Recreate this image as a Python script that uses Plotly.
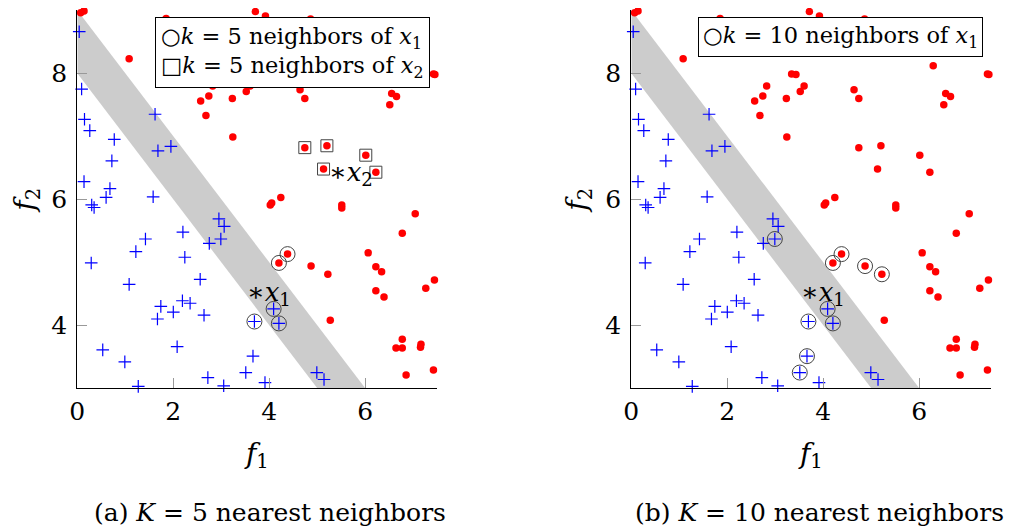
import plotly.graph_objects as go

# ---------------- data ----------------
blue_x = [0.04, 0.09, 0.15, 0.26, 0.77, 0.72, 0.14, 1.62, 1.68, 1.95, 0.68, 0.60, 1.58,
          0.30, 0.35, 2.95, 3.06, 2.99, 2.75, 2.20, 1.42, 1.22, 2.24, 0.29, 1.08, 2.56,
          1.74, 1.67, 2.00, 2.19, 2.35, 2.64, 3.69, 0.53, 0.99, 2.08, 1.27, 2.72, 3.05,
          3.51, 3.66, 3.91, 4.99, 5.14, 4.09, 4.20]
blue_y = [8.66, 7.75, 7.27, 7.09, 6.95, 6.61, 6.28, 7.35, 6.77, 6.84, 6.17, 6.03, 6.04,
          5.91, 5.87, 5.69, 5.57, 5.37, 5.30, 5.48, 5.37, 5.17, 5.08, 4.99, 4.65, 4.73,
          4.30, 4.10, 4.21, 4.39, 4.35, 4.16, 4.06, 3.61, 3.42, 3.66, 3.03, 3.17, 3.04,
          3.25, 3.51, 3.09, 3.25, 3.14, 4.26, 4.03]

red_x = [0.07, 0.14, 1.08, 1.85, 3.71, 3.92, 4.86, 2.57, 2.74, 2.82, 3.23, 3.52, 3.60,
         3.34, 3.43, 2.68, 3.24, 4.64, 4.74, 6.29, 7.42, 7.45, 6.55, 6.65, 6.51, 4.74,
         5.20, 6.01, 5.13, 6.22, 4.02, 4.05, 4.24, 5.51, 5.51, 7.04, 6.77, 6.06, 6.22,
         6.34, 7.44, 7.26, 6.22, 6.39, 4.20, 4.38, 4.87, 5.22, 5.27, 6.77, 6.64, 6.77,
         7.16, 7.15, 6.85, 7.42]
red_y = [8.96, 8.99, 8.23, 8.87, 8.98, 8.91, 8.86, 7.56, 7.64, 7.80, 7.60, 7.71, 7.80,
         7.99, 7.98, 7.33, 6.99, 7.74, 7.60, 8.12, 7.99, 7.98, 7.68, 7.63, 7.50, 6.82,
         6.85, 6.70, 6.48, 6.43, 5.91, 5.94, 6.03, 5.91, 5.86, 5.77, 5.46, 5.15, 4.93,
         4.85, 4.72, 4.59, 4.55, 4.45, 4.99, 5.13, 4.94, 4.81, 4.08, 3.78, 3.64, 3.64,
         3.70, 3.65, 3.21, 3.29]

# query points
x1_pt = (3.69, 4.53)
x2_pt = (5.39, 6.44)

# neighbour sets
k5_x1_x = [3.69, 4.09, 4.20, 4.20, 4.38]
k5_x1_y = [4.06, 4.26, 4.03, 4.99, 5.13]
k5_x2_x = [4.74, 5.20, 6.01, 5.13, 6.22]
k5_x2_y = [6.82, 6.85, 6.70, 6.48, 6.43]
k10_x1_x = [2.99, 4.09, 4.20, 3.69, 3.66, 3.51, 4.38, 4.20, 4.87, 5.22]
k10_x1_y = [5.37, 4.26, 4.03, 4.06, 3.51, 3.25, 5.13, 4.99, 4.94, 4.81]

# margin band between x+y=8 and x+y=9
band_x = [0, 6, 5, 0, 0]
band_y = [9, 3, 3, 8, 9]

x_ticks = [0, 2, 4, 6]
y_ticks = [4, 6, 8]
captions = ["(a) <i>K</i> = 5 nearest neighbors", "(b) <i>K</i> = 10 nearest neighbors"]

FONT = "DejaVu Serif, Liberation Serif, serif"
BLUE = "#0000ff"
RED = "#ff0000"
RING = "#444444"

# page body offsets the figure by 8 px; lay out in screen pixels
OFF = 8
W, H = 1014 - OFF, 532 - OFF


def px(sx):
    return (sx - OFF) / W


def py(sy):
    return 1 - (sy - OFF) / H


fig = go.Figure()


def add_panel(xa, ya):
    fig.add_trace(go.Scatter(x=band_x, y=band_y, mode="lines", fill="toself",
                             fillcolor="#cccccc", line=dict(width=0),
                             hoverinfo="skip", showlegend=False, xaxis=xa, yaxis=ya))
    fig.add_trace(go.Scatter(x=blue_x, y=blue_y, mode="markers", showlegend=False,
                             cliponaxis=False, xaxis=xa, yaxis=ya,
                             marker=dict(symbol="cross-thin", size=9, color=BLUE,
                                         line=dict(color=BLUE, width=1.2))))
    fig.add_trace(go.Scatter(x=red_x, y=red_y, mode="markers", showlegend=False,
                             cliponaxis=False, xaxis=xa, yaxis=ya,
                             marker=dict(symbol="circle", size=7.5, color=RED,
                                         line=dict(width=0))))


add_panel("x", "y")
add_panel("x2", "y2")

# neighbour rings, left
fig.add_trace(go.Scatter(x=k5_x1_x, y=k5_x1_y, mode="markers", showlegend=False,
                         cliponaxis=False, xaxis="x", yaxis="y",
                         marker=dict(symbol="circle-open", size=15, color=RING,
                                     line=dict(color=RING, width=1))))
fig.add_trace(go.Scatter(x=k5_x2_x, y=k5_x2_y, mode="markers", showlegend=False,
                         cliponaxis=False, xaxis="x", yaxis="y",
                         marker=dict(symbol="square-open", size=12, color=RING,
                                     line=dict(color=RING, width=1))))
# neighbour rings, right
fig.add_trace(go.Scatter(x=k10_x1_x, y=k10_x1_y, mode="markers", showlegend=False,
                         cliponaxis=False, xaxis="x2", yaxis="y2",
                         marker=dict(symbol="circle-open", size=15, color=RING,
                                     line=dict(color=RING, width=1))))

x_dom = [[px(77.3), px(437.3)], [px(631.3), px(991.3)]]
y_dom = [py(388.3), py(10.3)]
caption_x = [px(270), px(819)]

axis_common = dict(showgrid=False, zeroline=False, showline=True, linecolor="black",
                   linewidth=1.2, ticks="inside", ticklen=10, tickcolor="#999999",
                   tickwidth=1, tickfont=dict(family=FONT, size=25, color="black"),
                   mirror=False, automargin=False)

for i, (xn, yn) in enumerate([("xaxis", "yaxis"), ("xaxis2", "yaxis2")]):
    xa = "x" if i == 0 else "x2"
    ya = "y" if i == 0 else "y2"
    fig.layout[xn] = dict(axis_common, domain=x_dom[i], range=[0, 7.5], anchor=ya,
                          tickvals=x_ticks, ticklabelstandoff=1,
                          title=dict(text="<i>f</i><sub>1</sub>", standoff=17,
                                     font=dict(family=FONT, size=28, color="black")))
    fig.layout[yn] = dict(axis_common, domain=y_dom, range=[3, 9], anchor=xa,
                          tickvals=y_ticks, ticklabelstandoff=4,
                          title=dict(text="<i>f</i><sub>2</sub>", standoff=10,
                                     font=dict(family=FONT, size=28, color="black")))

# query point labels
for xr, yr, pt, lab in [("x", "y", x1_pt, "1"), ("x", "y", x2_pt, "2"), ("x2", "y2", x1_pt, "1")]:
    fig.add_annotation(x=pt[0], y=pt[1], xref=xr, yref=yr, xanchor="left",
                       yanchor="middle", xshift=-9, yshift=-2, showarrow=False,
                       text="∗<i>x</i><sub>" + lab + "</sub>",
                       font=dict(family=FONT, size=26, color="black"))

# legends
fig.add_annotation(x=px(155), y=py(17), xref="paper", yref="paper",
                   xanchor="left", yanchor="top", showarrow=False, align="left",
                   bgcolor="white", bordercolor="black", borderwidth=1, borderpad=5,
                   text="○<i>k</i> = 5 neighbors of <i>x</i><sub>1</sub><br>"
                        "□<i>k</i> = 5 neighbors of <i>x</i><sub>2</sub>",
                   font=dict(family=FONT, size=22.5, color="black"))
fig.add_annotation(x=px(698), y=py(17), xref="paper", yref="paper",
                   xanchor="left", yanchor="top", showarrow=False, align="left",
                   bgcolor="white", bordercolor="black", borderwidth=1, borderpad=4,
                   text="○<i>k</i> = 10 neighbors of <i>x</i><sub>1</sub>",
                   font=dict(family=FONT, size=22.5, color="black"))

# captions
for i, cap in enumerate(captions):
    fig.add_annotation(x=caption_x[i], y=py(512),
                       xref="paper", yref="paper", xanchor="center", yanchor="middle",
                       showarrow=False, text=cap,
                       font=dict(family=FONT, size=25, color="black"))

fig.update_layout(width=W, height=H, margin=dict(l=0, r=0, t=0, b=0),
                  plot_bgcolor="white", paper_bgcolor="white", showlegend=False)

fig.write_html("out.html")
